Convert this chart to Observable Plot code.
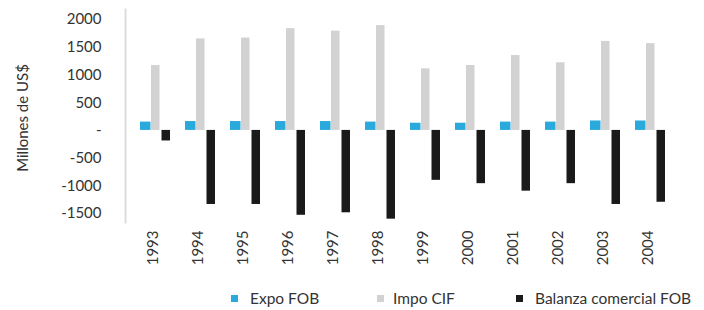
<!DOCTYPE html>
<html>
<head>
<meta charset="utf-8">
<script src="https://cdn.jsdelivr.net/npm/d3@7"></script>
<script src="https://cdn.jsdelivr.net/npm/@observablehq/plot@0.6"></script>
<style>
  html, body { margin: 0; padding: 0; background: #fff; }
  #wrap { position: relative; width: 704px; height: 310px; font-family: Lato, "Open Sans", sans-serif; color: #333; }
  #legend { position: absolute; left: 0; top: 288px; width: 704px; height: 20px; font-size: 15.5px; color: #333; }
  .li { position: absolute; top: 0; display: flex; align-items: center; height: 20px; white-space: nowrap; }
  .sw { width: 7px; height: 7px; }
</style>
</head>
<body>
<div id="wrap"><div id="chart"></div><div id="legend"></div></div>
<script>
const years = ["1993","1994","1995","1996","1997","1998","1999","2000","2001","2002","2003","2004"];
const expo = [150, 160, 160, 160, 160, 150, 130, 130, 150, 150, 170, 170];
const impo = [1170, 1650, 1665, 1835, 1790, 1890, 1110, 1170, 1350, 1220, 1605, 1565];
const balanza = [-190, -1335, -1335, -1530, -1485, -1600, -900, -960, -1095, -960, -1335, -1295];
const series = ["Expo FOB", "Impo CIF", "Balanza comercial FOB"];
const colors = ["#29a9dc", "#d2d2d2", "#1a1a1a"];
const yTicks = [-1500, -1000, -500, 0, 500, 1000, 1500, 2000];

const rows = (vals, s) => years.map((yr, i) => ({year: yr, serie: s, value: vals[i]}));
const expoData = rows(expo, series[0]);
const impoData = rows(impo, series[1]);
const balData = rows(balanza, series[2]);

const chart = Plot.plot({
  width: 704,
  height: 286,
  marginLeft: 125,
  marginRight: 24.5,
  marginTop: 9,
  marginBottom: 64,
  style: {fontFamily: "Lato, 'Open Sans', sans-serif", color: "#333", background: "#fff"},
  x: {domain: years, paddingInner: 0.34, paddingOuter: 0.263, label: null},
  y: {domain: [-1660, 2180], label: null},
  color: {domain: series, range: colors},
  marks: [
    Plot.frame({anchor: "left", stroke: "#dcdcdc", strokeWidth: 2}),
    Plot.barY(expoData, {x: "year", y: "value", fill: "serie", insetLeft: 0, insetRight: 19.5}),
    Plot.barY(impoData, {x: "year", y: "value", fill: "serie", insetLeft: 11, insetRight: 10.5}),
    Plot.barY(balData, {x: "year", y: "value", fill: "serie", insetLeft: 21.5, insetRight: 0}),
    Plot.axisY({ticks: yTicks, tickSize: 0, tickPadding: 24, fontSize: 15, label: null,
      tickFormat: d => d === 0 ? "-" : String(d)}),
    Plot.axisX({anchor: "bottom", tickRotate: -90, tickSize: 0, tickPadding: 8, fontSize: 15, label: null, dx: -2})
  ]
});
document.getElementById("chart").appendChild(chart);

// y axis title
d3.select(chart).append("text")
  .attr("transform", "translate(22,118) rotate(-90)")
  .attr("text-anchor", "middle")
  .attr("dominant-baseline", "central")
  .style("font-size", "15px")
  .style("fill", "#333")
  .text("Millones de US$");

const legendX = [{sq: 231, tx: 250}, {sq: 377, tx: 393}, {sq: 516, tx: 535}];
const legend = d3.select("#legend");
series.forEach((s, i) => {
  const item = legend.append("div").attr("class", "li").style("left", legendX[i].sq + "px");
  item.append("div").attr("class", "sw").style("background", colors[i])
    .style("margin-right", (legendX[i].tx - legendX[i].sq - 7) + "px");
  item.append("span").text(s);
});
</script>
</body>
</html>
